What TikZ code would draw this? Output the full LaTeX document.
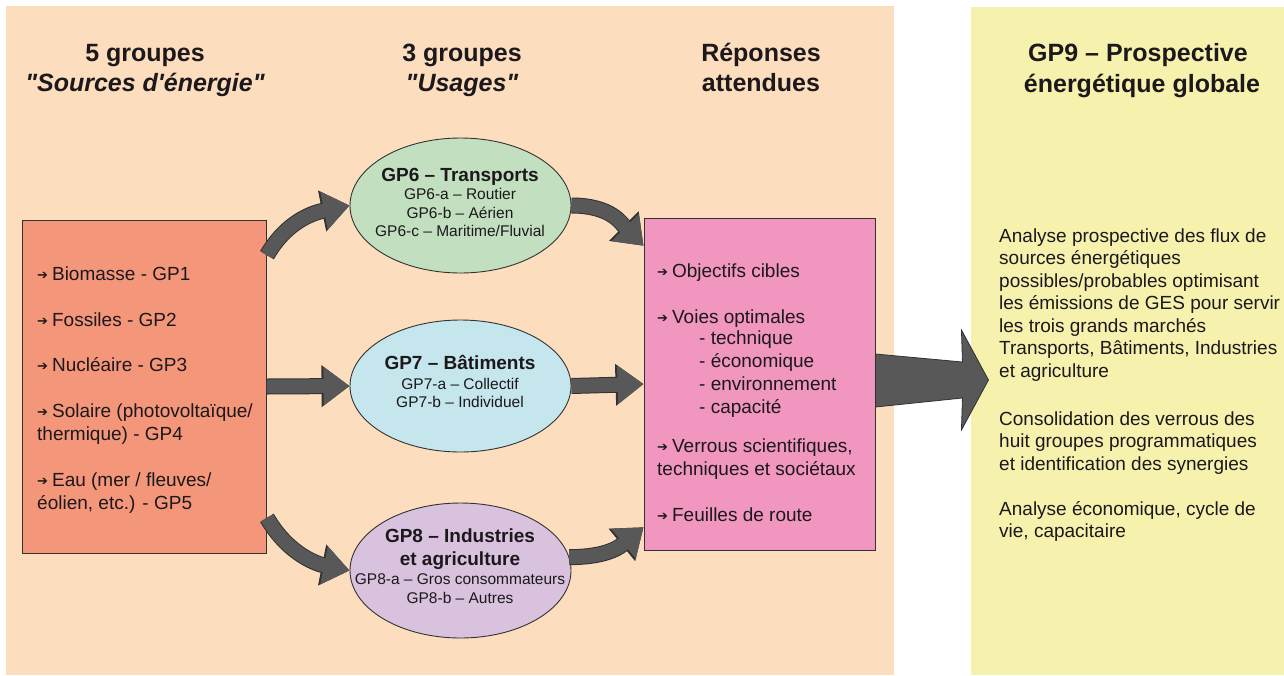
\documentclass[tikz,border=0pt]{standalone}
\usepackage{fontspec}
\setmainfont{Liberation Sans}[Ligatures=TeXOff]
\newfontfamily\symfont{DejaVu Sans}
\usetikzlibrary{arrows.meta,calc,shapes.geometric}
\definecolor{peach}{RGB}{252,222,190}
\definecolor{paleyellow}{RGB}{246,242,174}
\definecolor{orangebox}{RGB}{244,150,122}
\definecolor{greenell}{RGB}{194,224,192}
\definecolor{blueell}{RGB}{196,230,236}
\definecolor{lilacell}{RGB}{216,194,222}
\definecolor{pinkbox}{RGB}{241,150,190}
\definecolor{arrowgray}{RGB}{88,88,88}
\definecolor{edgegray}{RGB}{50,50,50}
\definecolor{txt}{RGB}{28,24,28}
\newcommand{\myarr}{{\symfont\fontsize{13}{13}\selectfont\raisebox{0.5pt}{➔}}\hspace{4pt}}
\tikzset{
  head/.style={anchor=base, inner sep=0pt, text=txt, font=\fontsize{25}{30}\selectfont\bfseries},
  lbl/.style={anchor=base west, inner sep=0pt, text=txt, font=\fontsize{19}{22}\selectfont},
  etitle/.style={anchor=base, inner sep=0pt, text=txt, font=\fontsize{19}{20}\selectfont\bfseries},
  esub/.style={anchor=base, inner sep=0pt, text=txt, font=\fontsize{15.5}{18}\selectfont},
  box/.style={rectangle, draw=edgegray, line width=0.9pt, inner sep=0pt},
  ell/.style={ellipse, draw=edgegray, line width=0.9pt, inner sep=0pt, minimum width=221pt},
  flowedge/.style={line width=16pt, draw=edgegray, -{Triangle[length=28pt,width=40pt]}},
  flow/.style={line width=14pt, draw=arrowgray, -{Triangle[length=26pt,width=37pt]}}
}
\begin{document}
\begin{tikzpicture}[x=1pt,y=-1pt]
\useasboundingbox (0,0) rectangle (1284,675);
\fill[white] (0,0) rectangle (1284,675);
% panels
\fill[peach] (6,6) rectangle (894,675);
\fill[paleyellow] (971,7) rectangle (1284,675);

% headings
\node[head] (h1a) at (145,61) {5 groupes};
\node[head] (h1b) at (145,91) {\itshape "Sources d'énergie"};
\node[head] (h2a) at (462,61) {3 groupes};
\node[head] (h2b) at (462,91) {\itshape "Usages"};
\node[head] (h3a) at (761,61) {Réponses};
\node[head] (h3b) at (761,91) {attendues};
\node[head] (h4a) at (1138,61) {GP9 – Prospective};
\node[head] (h4b) at (1142,92) {énergétique globale};

% boxes and ellipses
\node[box, fill=orangebox, minimum width=244pt, minimum height=333pt] (src) at (144.5,386.5) {};
\node[box, fill=pinkbox, minimum width=231pt, minimum height=332pt] (resp) at (759.5,384) {};
\node[ell, fill=greenell, minimum height=135pt] (gp6) at (460.5,205.5) {};
\node[ell, fill=blueell, minimum height=132pt] (gp7) at (460.5,386) {};
\node[ell, fill=lilacell, minimum height=135pt] (gp8) at (460.5,570.5) {};

% source list
\foreach \t/\y [count=\i] in {
  {\myarr Biomasse - GP1}/280,
  {\myarr Fossiles - GP2}/326,
  {\myarr Nucléaire - GP3}/371,
  {\myarr Solaire (photovoltaïque/}/417,
  {thermique) - GP4}/440,
  {\myarr Eau (mer / fleuves/}/486,
  {éolien, etc.) - GP5}/509}
  {\node[lbl] (s\i) at (37,\y) {\t};}

% ellipse texts
\node[etitle] (t6) at (460,181) {GP6 – Transports};
\node[esub] (t6a) at (460,199) {GP6-a – Routier};
\node[esub] (t6b) at (460,218) {GP6-b – Aérien};
\node[esub] (t6c) at (460,236.5) {GP6-c – Maritime/Fluvial};

\node[etitle] (t7) at (460,369) {GP7 – Bâtiments};
\node[esub] (t7a) at (460,389) {GP7-a – Collectif};
\node[esub] (t7b) at (460,407) {GP7-b – Individuel};

\node[etitle] (t8) at (460,542) {GP8 – Industries};
\node[etitle] (t8b) at (460,565) {et agriculture};
\node[esub] (t8c) at (460,584) {GP8-a – Gros consommateurs};
\node[esub] (t8d) at (460,603) {GP8-b – Autres};

% responses list
\foreach \x/\y/\t [count=\i] in {
  657/277/{\myarr Objectifs cibles},
  657/323/{\myarr Voies optimales},
  699/344/{- technique},
  699/367/{- économique},
  699/390/{- environnement},
  699/413/{- capacité},
  657/452/{\myarr Verrous scientifiques,},
  657/475/{techniques et sociétaux},
  657/521/{\myarr Feuilles de route}}
  {\node[lbl] (p\i) at (\x,\y) {\t};}

% GP9 text
\foreach \t/\y [count=\i] in {
  {Analyse prospective des flux de}/242,
  {sources énergétiques}/264.5,
  {possibles/probables optimisant}/287,
  {les émissions de GES pour servir}/309.5,
  {les trois grands marchés}/332,
  {Transports, Bâtiments, Industries}/354.5,
  {et agriculture}/377,
  {Consolidation des verrous des}/425,
  {huit groupes programmatiques}/447.5,
  {et identification des synergies}/470,
  {Analyse économique, cycle de}/515,
  {vie, capacitaire}/537.5}
  {\node[lbl] (g\i) at (999,\y) {\t};}

% flow arrows (outline pass, then fill pass)
\foreach \st in {flowedge, flow}{
  \draw[\st] (src.47) .. controls +(22,-38) and +(-30,6) .. (gp6.west);
  \draw[\st] (src.east) -- (gp7.west);
  \draw[\st] (src.-47) .. controls +(22,38) and +(-30,-6) .. (gp8.west);
  \draw[\st] (gp6.east) .. controls +(40,0) and +(-22,-22) .. (resp.130);
  \draw[\st] (gp7.east) -- (resp.west);
  \draw[\st] (gp8.7) .. controls +(40,0) and +(-22,18) .. (resp.231);
}

% big arrow to GP9
\filldraw[fill=arrowgray, draw=edgegray, line width=0.8pt]
  ($(resp.east)+(0,-30)$) -- ($(resp.east)+(87,-22)$) -- ($(resp.east)+(86,-54)$)
  -- ($(resp.east)+(113,-4)$) -- ($(resp.east)+(86,46)$) -- ($(resp.east)+(87,14)$)
  -- ($(resp.east)+(0,23)$) -- cycle;
\end{tikzpicture}
\end{document}
